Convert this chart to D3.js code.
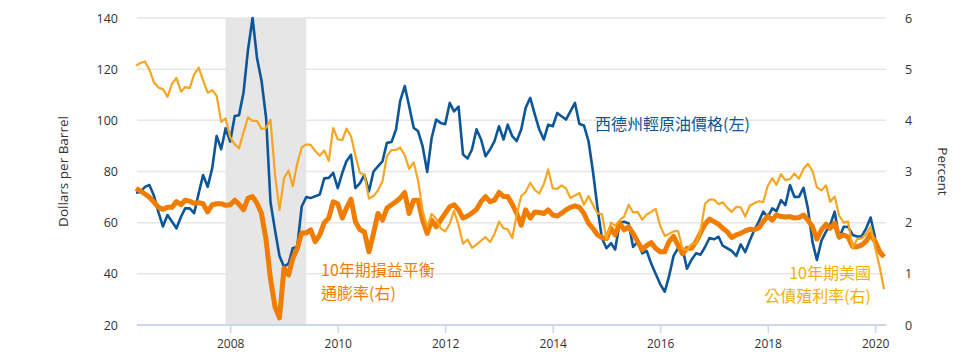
<!DOCTYPE html>
<html><head><meta charset="utf-8">
<script src="https://cdn.jsdelivr.net/npm/d3@7/dist/d3.min.js"></script>
<style>body{margin:0;background:#fff}svg{display:block}</style>
</head><body>
<svg id="chart" width="980" height="360"></svg>
<script>
// ---- data (monthly, month-end) ----
const startYear = 2006, startMonthIndex = 3; // April 2006
const oilWTI = [ // Dollars per barrel, Apr 2006 - Jan 2020
  71.7, 72, 74, 74.7, 70.5, 64, 58.5, 63, 60.5,
  57.8, 62.3, 65.6, 65.6, 63.7, 71.5, 78.6, 74, 81.3, 93.9, 88.7, 96.9,
  91.7, 101.7, 102, 111, 127.5, 140, 124.5, 115.5, 101, 68, 57, 47,
  42.8, 44, 50, 50.6, 66.3, 70, 69.6, 70.3, 71, 77.3, 77.5, 79.5,
  73.5, 79.5, 84, 86.5, 73.5, 75.5, 78.7, 72.2, 80, 82, 84, 91.2,
  91.5, 96.4, 107.5, 113.4, 105.6, 97.1, 95.7, 89.8, 79.8, 93.1, 100.3, 99,
  98.5, 106.8, 103.5, 105.4, 86.7, 85.1, 88.6, 96.5, 92.5, 86, 88.6, 91.9,
  97.7, 92.5, 98.3, 93.8, 91.9, 96.5, 104.9, 108.8, 102.3, 96.5, 92.5, 98.3,
  97.7, 102.9, 101.6, 100.3, 103.5, 106.8, 98.6, 98, 91.9, 80.1, 65.8, 54,
  50, 52, 49.5, 60, 60.4, 59.7, 50.5, 52.5, 48, 49, 44, 40,
  36, 33, 39, 47, 50, 50, 42, 45.5, 48, 47.5, 50.5, 54,
  53.5, 54.5, 51, 50, 49, 47, 51.5, 48.5, 53, 57, 60.4, 64.3,
  62.3, 65.6, 64.5, 68.8, 66.9, 74.7, 70.1, 70.1, 73.6, 65.5, 52.5, 45.4,
  53, 56.5, 59.1, 64.3, 53.9, 58.4, 58.4, 55.2, 54.6, 54.6, 57.8, 62,
  54
];
const treasury10y = [ // Percent, Apr 2006 - Mar 2020
  5.07, 5.12, 5.15, 4.99, 4.74, 4.64, 4.61, 4.46, 4.71,
  4.83, 4.56, 4.65, 4.63, 4.90, 5.03, 4.78, 4.54, 4.59, 4.48, 3.97, 4.04,
  3.67, 3.53, 3.45, 3.77, 4.06, 3.99, 3.99, 3.83, 3.85, 4.01, 2.93, 2.25,
  2.87, 3.02, 2.71, 3.16, 3.47, 3.53, 3.52, 3.40, 3.31, 3.41, 3.21, 3.85,
  3.63, 3.61, 3.84, 3.69, 3.31, 2.97, 2.94, 2.47, 2.52, 2.63, 2.81, 3.30,
  3.42, 3.42, 3.47, 3.32, 3.05, 3.18, 2.82, 2.23, 1.92, 2.17, 2.08, 1.89,
  1.83, 1.98, 2.23, 1.95, 1.59, 1.67, 1.51, 1.57, 1.65, 1.72, 1.62, 1.78,
  2.02, 1.89, 1.87, 1.70, 2.16, 2.52, 2.60, 2.78, 2.64, 2.57, 2.75, 3.04,
  2.67, 2.66, 2.73, 2.67, 2.48, 2.53, 2.58, 2.35, 2.52, 2.35, 2.18, 2.17,
  1.68, 2.00, 1.94, 2.05, 2.12, 2.35, 2.20, 2.21, 2.06, 2.16, 2.21, 2.27,
  1.94, 1.74, 1.78, 1.83, 1.84, 1.49, 1.46, 1.58, 1.60, 1.84, 2.37, 2.45,
  2.45, 2.36, 2.40, 2.29, 2.21, 2.31, 2.30, 2.12, 2.33, 2.38, 2.42, 2.40,
  2.72, 2.87, 2.74, 2.95, 2.83, 2.85, 2.96, 2.86, 3.05, 3.15, 3.01, 2.69,
  2.63, 2.73, 2.41, 2.51, 2.14, 2.00, 2.02, 1.50, 1.68, 1.69, 1.78, 1.92,
  1.51, 1.13, 0.70
];
const breakeven10y = [ // Percent, Apr 2006 - Mar 2020
  2.67, 2.62, 2.56, 2.50, 2.40, 2.30, 2.26, 2.30, 2.30,
  2.41, 2.35, 2.44, 2.42, 2.38, 2.39, 2.37, 2.21, 2.35, 2.37, 2.37, 2.34,
  2.35, 2.44, 2.36, 2.25, 2.48, 2.51, 2.38, 2.18, 1.66, 0.90, 0.35, 0.14,
  1.11, 0.98, 1.30, 1.50, 1.80, 1.80, 1.86, 1.63, 1.76, 2.00, 2.09, 2.41,
  2.37, 2.09, 2.28, 2.46, 2.02, 1.86, 1.82, 1.43, 1.79, 2.18, 2.05, 2.28,
  2.35, 2.41, 2.48, 2.59, 2.18, 2.44, 2.44, 2.05, 1.79, 2.05, 1.92, 2.05,
  2.18, 2.31, 2.35, 2.25, 2.09, 2.13, 2.19, 2.26, 2.41, 2.51, 2.41, 2.44,
  2.59, 2.51, 2.51, 2.36, 2.18, 1.95, 2.25, 2.09, 2.21, 2.20, 2.18, 2.25,
  2.15, 2.13, 2.18, 2.25, 2.30, 2.33, 2.30, 2.18, 1.99, 1.89, 1.76, 1.71,
  1.69, 1.89, 1.76, 1.99, 1.86, 1.92, 1.79, 1.63, 1.47, 1.55, 1.61, 1.50,
  1.43, 1.43, 1.63, 1.73, 1.56, 1.39, 1.50, 1.50, 1.63, 1.80, 1.97, 2.07,
  2.02, 1.97, 1.89, 1.82, 1.71, 1.76, 1.79, 1.84, 1.87, 1.86, 1.90, 2.02,
  2.13, 2.05, 2.15, 2.12, 2.11, 2.12, 2.09, 2.10, 2.15, 2.05, 1.92, 1.68,
  1.86, 1.97, 1.89, 1.99, 1.72, 1.76, 1.72, 1.53, 1.53, 1.56, 1.64, 1.78,
  1.63, 1.43, 1.33
];
const leftTicks = [20, 40, 60, 80, 100, 120, 140];
const rightTicks = [0, 1, 2, 3, 4, 5, 6];
const yearTicks = [2008, 2010, 2012, 2014, 2016, 2018, 2020];
const recessionStart = "2007-12-01", recessionEnd = "2009-06-01";
const leftTitle = "Dollars per Barrel", rightTitle = "Percent";
const oilLabel = ["西德州輕原油價格(左)"];
const breakevenLabel = ["10年期損益平衡", "通膨率(右)"];
const treasuryLabel = ["10年期美國", "公債殖利率(右)"];

// ---- chart ----
const svg = d3.select("#chart");
const FONT = "'Open Sans','DejaVu Sans',sans-serif";
const CJK = "'Noto Sans CJK TC','Noto Sans',sans-serif";
const plotL = 137, plotR = 886, plotT = 18, plotB = 325;

const monthDate = i => new Date(Date.UTC(startYear, startMonthIndex + i, 1));
const x = d3.scaleUtc()
  .domain([monthDate(0), monthDate(breakeven10y.length - 1)])
  .range([136, 884]);
const yL = d3.scaleLinear().domain([20, 140]).range([plotB, plotT]);
const yR = d3.scaleLinear().domain([0, 6]).range([plotB, plotT]);

// grid
svg.append("g").selectAll("line").data(leftTicks.slice(1)).join("line")
  .attr("x1", plotL).attr("x2", plotR)
  .attr("y1", d => yL(d)).attr("y2", d => yL(d))
  .attr("stroke", "#e6e6e6").attr("stroke-width", 1.5);

// recession shading
svg.append("rect")
  .attr("x", x(new Date(recessionStart)))
  .attr("width", x(new Date(recessionEnd)) - x(new Date(recessionStart)))
  .attr("y", plotT).attr("height", plotB - plotT)
  .attr("fill", "#e6e6e6");

// x axis
const xAxis = d3.axisBottom(x)
  .tickValues(yearTicks.map(y => new Date(Date.UTC(y, 0, 1))))
  .tickFormat(d3.utcFormat("%Y")).tickSize(8).tickPadding(6);
const gx = svg.append("g").attr("transform", `translate(0,${plotB})`).call(xAxis);
gx.select(".domain").remove();
gx.selectAll(".tick line").attr("stroke", "#ccd6eb").attr("stroke-width", 1.5);
gx.selectAll(".tick text").attr("fill", "#333").style("font-family", FONT).style("font-size", "12px");
svg.append("line").attr("x1", plotL).attr("x2", plotR).attr("y1", plotB).attr("y2", plotB)
  .attr("stroke", "#ccd6eb").attr("stroke-width", 2);

// left axis
const gl = svg.append("g").attr("transform", `translate(${plotL},0)`)
  .call(d3.axisLeft(yL).tickValues(leftTicks).tickFormat(d3.format("d")).tickSize(0).tickPadding(19));
gl.select(".domain").remove();
gl.selectAll("text").attr("fill", "#333").style("font-family", FONT).style("font-size", "12.5px");

// right axis
const gr = svg.append("g").attr("transform", `translate(${plotR},0)`)
  .call(d3.axisRight(yR).tickValues(rightTicks).tickFormat(d3.format("d")).tickSize(0).tickPadding(19));
gr.select(".domain").remove();
gr.selectAll("text").attr("fill", "#333").style("font-family", FONT).style("font-size", "12.5px");

// axis titles
svg.append("text").attr("transform", `translate(68,${(plotT + plotB) / 2}) rotate(-90)`)
  .attr("text-anchor", "middle").attr("fill", "#333")
  .style("font-family", FONT).style("font-size", "13.5px").text(leftTitle);
svg.append("text").attr("transform", `translate(938,${(plotT + plotB) / 2}) rotate(90)`)
  .attr("text-anchor", "middle").attr("fill", "#333")
  .style("font-family", FONT).style("font-size", "13.5px").text(rightTitle);

// lines
const lineL = d3.line().x((d, i) => x(monthDate(i))).y(d => yL(d));
const lineR = d3.line().x((d, i) => x(monthDate(i))).y(d => yR(d));
svg.append("path").datum(oilWTI).attr("d", lineL)
  .attr("fill", "none").attr("stroke", "#0d5697").attr("stroke-width", 2.6).attr("stroke-linejoin", "round");
svg.append("path").datum(breakeven10y).attr("d", lineR)
  .attr("fill", "none").attr("stroke", "#f07d00").attr("stroke-width", 5).attr("stroke-linejoin", "round");
svg.append("path").datum(treasury10y).attr("d", lineR)
  .attr("fill", "none").attr("stroke", "#f5a623").attr("stroke-width", 2.2).attr("stroke-linejoin", "round");

// series labels
function label(lines, xPos, yPos, anchor, color) {
  const t = svg.append("text").attr("text-anchor", anchor).attr("fill", color)
    .style("font-family", CJK).style("font-size", "16px");
  lines.forEach((s, i) => t.append("tspan").attr("x", xPos).attr("y", yPos + i * 23).text(s));
}
label(oilLabel, 595, 130, "start", "#0d5697");
label(breakevenLabel, 321, 276, "start", "#f07d00");
label(treasuryLabel, 871, 279, "end", "#f4b000");
</script>
</body></html>
